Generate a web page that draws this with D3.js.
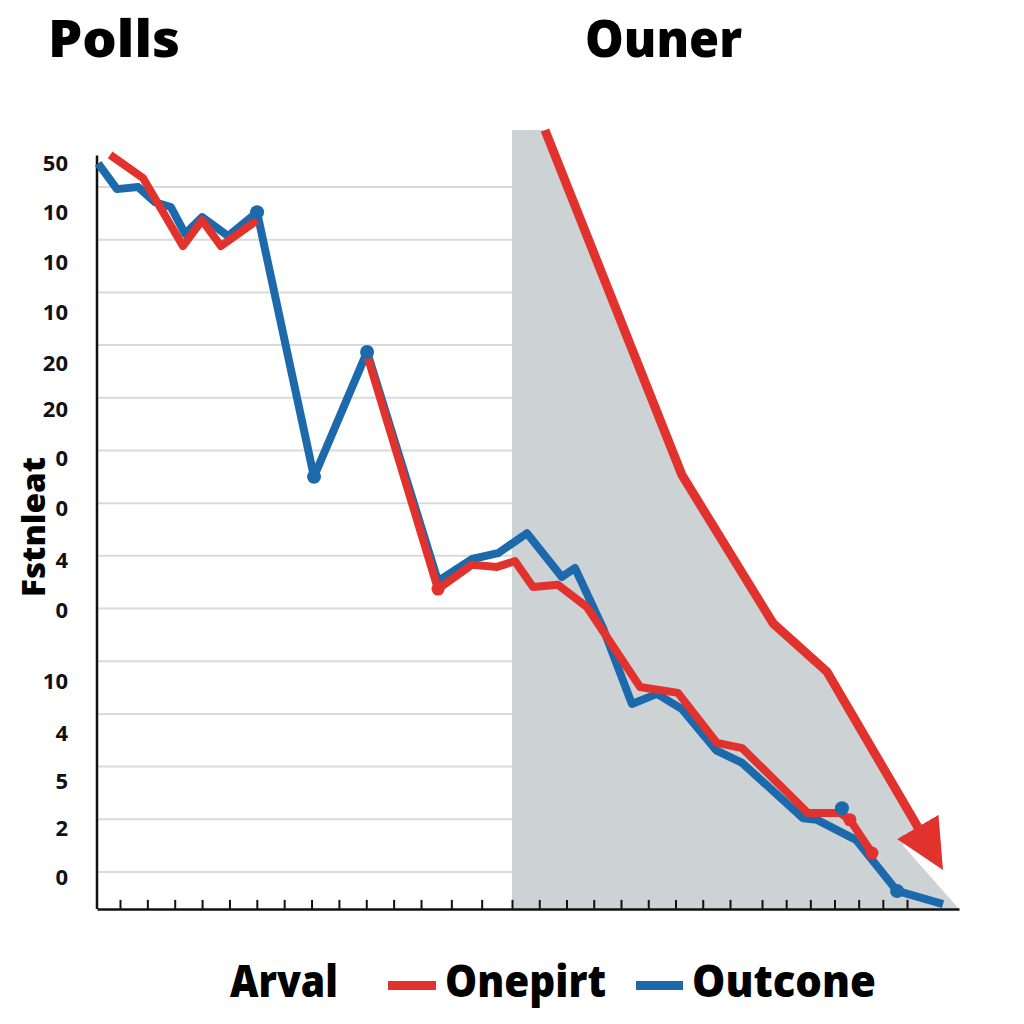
<!DOCTYPE html>
<html>
<head>
<meta charset="utf-8">
<script src="https://cdn.jsdelivr.net/npm/d3@7"></script>
<style>
  body { margin: 0; background: #fff; }
  svg { display: block; font-family: "Open Sans", "DejaVu Sans", sans-serif; }
</style>
</head>
<body>
<script>
// x = week index on the bottom axis, y = level on the left axis

const xTickWeeks = d3.range(0, 30);
const gridLevels = d3.range(0, 14);
const yTickValues = [13.45, 12.51, 11.56, 10.61, 9.66, 8.77, 7.84, 6.89, 5.92, 4.97, 3.61, 2.62, 1.71, 0.82, -0.11];
const yTickLabels = ["50", "10", "10", "10", "20", "20", "0", "0", "4", "0", "10", "4", "5", "2", "0"];

// blue series (Outcone)
const outcomeWeeks  = [-0.80, -0.11, 0.66, 1.28, 1.86, 2.38, 3.00, 3.95, 5.01, 7.09, 9.03, 11.56, 12.68, 13.54, 14.55, 15.83, 16.31, 17.34, 18.40, 19.32, 20.24, 21.49, 22.38, 24.70, 25.28, 26.89, 28.59, 30.49];
const outcomeLevels = [13.45, 12.96, 13.00, 12.71, 12.62, 12.11, 12.43, 12.07, 12.52, 7.50, 9.87, 5.52, 5.94, 6.05, 6.43, 5.60, 5.77, 4.63, 3.19, 3.38, 3.09, 2.31, 2.07, 1.02, 0.99, 0.61, -0.36, -0.61];
const outcomeDotWeeks  = [5.01, 7.09, 9.03, 26.31, 28.59];
const outcomeDotLevels = [12.52, 7.50, 9.87, 1.21, -0.36];

// red series (Onepirt), null = no poll
const pollWeeks  = [-0.36, 0.84, 2.30, 3.00, 3.69, 5.01, 7.00, 9.03, 11.56, 12.68, 13.51, 14.11, 14.77, 15.69, 16.75, 18.70, 20.09, 21.52, 22.38, 24.90, 26.23, 26.64, 27.55];
const pollLevels = [13.61, 13.17, 11.88, 12.37, 11.88, 12.37, null, 9.81, 5.37, 5.83, 5.79, 5.90, 5.41, 5.45, 5.03, 3.51, 3.40, 2.45, 2.35, 1.12, 1.12, 0.99, 0.36];
const pollDotWeeks  = [11.56, 26.64, 27.55];
const pollDotLevels = [5.37, 0.99, 0.36];

// red forecast arrow
const forecastWeeks  = [15.21, 20.24, 23.46, 25.69, 30.28];
const forecastLevels = [14.08, 7.53, 4.72, 3.80, 0.20];

// grey "Ouner" band
const shadeWeeks  = [14.00, 15.21, 20.24, 23.46, 25.69, 29.45, 28.83, 31.15];
const shadeLevels = [14.08, 14.08, 7.53, 4.72, 3.80, 0.83, 0.51, -0.70];

const width = 1024, height = 1024;
const red = "#e2322e", blue = "#1c6aab", grey = "#cdd2d5";
const yBottom = -0.7, yTop = 13.6;

const x = d3.scaleLinear()
    .domain([-0.84, 11, 14, 22, 23, 29, 31.15])
    .range([97, 421, 512, 730, 762, 907, 959]);

const y = d3.scaleLinear()
    .domain([0, 13])
    .range([872, 187]);

const svg = d3.select("body").append("svg")
    .attr("width", width)
    .attr("height", height);

const defs = svg.append("defs");
defs.append("marker")
    .attr("id", "arrow")
    .attr("markerUnits", "userSpaceOnUse")
    .attr("viewBox", "0 0 50 48")
    .attr("refX", 40)
    .attr("refY", 24)
    .attr("markerWidth", 50)
    .attr("markerHeight", 48)
    .attr("orient", "auto")
  .append("path")
    .attr("d", "M0,0L50,24L0,48Z")
    .attr("fill", red);

// titles
svg.append("text")
    .attr("x", 48).attr("y", 57)
    .attr("font-size", 52).attr("font-weight", 800)
    .attr("textLength", 132).attr("lengthAdjust", "spacingAndGlyphs")
    .text("Polls");
svg.append("text")
    .attr("x", 585).attr("y", 57)
    .attr("font-size", 52).attr("font-weight", 800)
    .attr("textLength", 157).attr("lengthAdjust", "spacingAndGlyphs")
    .text("Ouner");

// grid
svg.append("g")
    .attr("stroke", "#dadada")
    .attr("stroke-width", 2)
  .selectAll("line")
  .data(gridLevels)
  .join("line")
    .attr("x1", x(-0.84))
    .attr("x2", x(14))
    .attr("y1", d => y(d))
    .attr("y2", d => y(d));

// shaded band
const shadeData = shadeWeeks.map((w, i) => ({w, v: shadeLevels[i]}));
svg.append("path")
    .datum(shadeData)
    .attr("fill", grey)
    .attr("d", d3.area()
        .x(d => x(d.w))
        .y0(y(yBottom))
        .y1(d => y(d.v)));

// axes
const yAxis = g => g
    .attr("transform", `translate(${x(-0.84)},0)`)
    .call(d3.axisLeft(y)
        .tickValues(yTickValues)
        .tickFormat((d, i) => yTickLabels[i])
        .tickSize(0)
        .tickPadding(29))
    .call(g => g.select(".domain").remove())
    .call(g => g.selectAll("text")
        .attr("font-family", "'Open Sans', 'DejaVu Sans', sans-serif")
        .attr("font-size", 22)
        .attr("font-weight", 700)
        .attr("fill", "#111"));

const xAxis = g => g
    .attr("transform", `translate(0,${y(yBottom)})`)
    .call(d3.axisBottom(x)
        .tickValues(xTickWeeks)
        .tickSizeInner(-9)
        .tickSizeOuter(0)
        .tickFormat(""))
    .call(g => g.select(".domain").attr("stroke", "#111").attr("stroke-width", 2.5))
    .call(g => g.selectAll(".tick line").attr("stroke", "#111").attr("stroke-width", 2));

svg.append("g").call(yAxis);

svg.append("line")
    .attr("x1", x(-0.84)).attr("x2", x(-0.84))
    .attr("y1", y(yTop)).attr("y2", y(yBottom))
    .attr("stroke", "#111")
    .attr("stroke-width", 2.5);

svg.append("g").call(xAxis);

svg.append("text")
    .attr("transform", `translate(45,527) rotate(-90)`)
    .attr("text-anchor", "middle")
    .attr("font-size", 32).attr("font-weight", 800)
    .attr("textLength", 140).attr("lengthAdjust", "spacingAndGlyphs")
    .text("Fstnleat");

// lines
const line = d3.line()
    .defined(d => d.v != null)
    .x(d => x(d.w))
    .y(d => y(d.v));

const outcomeData = outcomeWeeks.map((w, i) => ({w, v: outcomeLevels[i]}));
const pollData = pollWeeks.map((w, i) => ({w, v: pollLevels[i]}));
const forecastData = forecastWeeks.map((w, i) => ({w, v: forecastLevels[i]}));

svg.append("path")
    .datum(forecastData)
    .attr("fill", "none")
    .attr("stroke", red)
    .attr("stroke-width", 9)
    .attr("stroke-linejoin", "round")
    .attr("marker-end", "url(#arrow)")
    .attr("d", line);

svg.append("path")
    .datum(outcomeData)
    .attr("fill", "none")
    .attr("stroke", blue)
    .attr("stroke-width", 8)
    .attr("stroke-linejoin", "round")
    .attr("d", line);

svg.append("path")
    .datum(pollData)
    .attr("fill", "none")
    .attr("stroke", red)
    .attr("stroke-width", 8)
    .attr("stroke-linejoin", "round")
    .attr("d", line);

svg.append("g")
    .attr("fill", red)
  .selectAll("circle")
  .data(pollDotWeeks.map((w, i) => ({w, v: pollDotLevels[i]})))
  .join("circle")
    .attr("cx", d => x(d.w))
    .attr("cy", d => y(d.v))
    .attr("r", 6.5);

svg.append("g")
    .attr("fill", blue)
  .selectAll("circle")
  .data(outcomeDotWeeks.map((w, i) => ({w, v: outcomeDotLevels[i]})))
  .join("circle")
    .attr("cx", d => x(d.w))
    .attr("cy", d => y(d.v))
    .attr("r", 7);

// legend
const legend = svg.append("g")
    .attr("font-size", 44)
    .attr("font-weight", 800);

legend.append("text")
    .attr("x", 230).attr("y", 997)
    .attr("textLength", 108).attr("lengthAdjust", "spacingAndGlyphs")
    .text("Arval");
legend.append("rect")
    .attr("x", 388).attr("y", 981).attr("width", 48).attr("height", 9)
    .attr("fill", red);
legend.append("text")
    .attr("x", 445).attr("y", 997)
    .attr("textLength", 161).attr("lengthAdjust", "spacingAndGlyphs")
    .text("Onepirt");
legend.append("rect")
    .attr("x", 636).attr("y", 981).attr("width", 47).attr("height", 9)
    .attr("fill", blue);
legend.append("text")
    .attr("x", 692).attr("y", 997)
    .attr("textLength", 184).attr("lengthAdjust", "spacingAndGlyphs")
    .text("Outcone");
</script>
</body>
</html>
